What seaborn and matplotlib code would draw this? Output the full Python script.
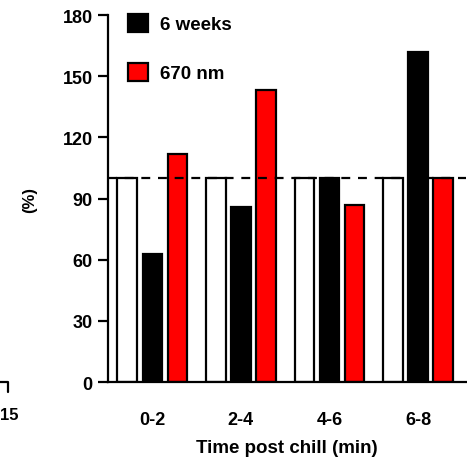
import matplotlib
matplotlib.use("Agg")
import matplotlib.pyplot as plt
from matplotlib.lines import Line2D
import seaborn as sns
import pandas as pd

categories = ["0-2", "2-4", "4-6", "6-8"]
control = [100, 100, 100, 100]
six_weeks = [63, 86, 100, 162]
nm670 = [112, 143, 87, 100]
series_names = ["Control", "6 weeks", "670 nm"]
yticks = [0, 30, 60, 90, 120, 150, 180]

rows = []
for name, vals in zip(series_names, [control, six_weeks, nm670]):
    for c, v in zip(categories, vals):
        rows.append({"time": c, "value": v, "group": name})
df = pd.DataFrame(rows)

sns.set_style("ticks")
plt.rcParams["font.family"] = ["Liberation Sans", "DejaVu Sans"]
plt.rcParams["font.weight"] = "bold"
plt.rcParams["text.color"] = "black"
plt.rcParams["axes.labelcolor"] = "black"
plt.rcParams["xtick.color"] = "black"
plt.rcParams["ytick.color"] = "black"

W, H = 467, 464
fig = plt.figure(figsize=(W / 100, H / 100), dpi=100)
ax = fig.add_axes([108 / W, 1 - 383 / H, (466 - 108) / W, (383 - 16) / H])

palette = {"Control": "white", "6 weeks": "black", "670 nm": "#ff0000"}
sns.barplot(data=df, x="time", y="value", hue="group", order=categories,
            hue_order=series_names, palette=palette, saturation=1,
            width=0.85, gap=0.22,
            edgecolor="black", linewidth=1.6, ax=ax, legend=False)

ax.axhline(100, color="black", lw=1.6, ls=(0, (4, 3.5)), zorder=10)

ax.set_ylim(0, 180)
ax.set_xlim(-0.5, 3.54)
ax.set_yticks(yticks)
ax.set_yticklabels([str(t) for t in yticks], fontsize=13, fontweight="bold", color="black")
ax.set_xticks(range(len(categories)))
ax.set_xticklabels(categories, fontsize=13, fontweight="bold", color="black")
ax.tick_params(axis="y", length=7, width=1.6, pad=4, colors="black")
ax.tick_params(axis="x", length=0, pad=21)
for s in ["top", "right"]:
    ax.spines[s].set_visible(False)
for s in ["left", "bottom"]:
    ax.spines[s].set_linewidth(1.6)
    ax.spines[s].set_color("black")

ax.set_xlabel("Time post chill (min)", fontsize=13.5, fontweight="bold", labelpad=8, color="black")
ax.set_ylabel("(%)", fontsize=12, fontweight="bold", color="black")
ax.yaxis.set_label_coords(-0.198, 0.5)

handles = [ax.containers[1].patches[0], ax.containers[2].patches[0]]
leg = ax.legend(handles, series_names[1:], loc="upper left",
                bbox_to_anchor=(0.008, 1.05), frameon=False,
                handlelength=1.1, handleheight=1.1, labelspacing=1.6,
                handletextpad=0.6, prop={"size": 13.5, "weight": "bold"})
for t in leg.get_texts():
    t.set_color("black")

# fragment of neighbouring panel at left edge
fig.text(0.0, 1 - 416 / H, "15", fontsize=12, fontweight="bold", va="center", ha="left", color="black")
fig.add_artist(Line2D([0, 8 / W, 8 / W], [1 - 383 / H, 1 - 383 / H, 1 - 393 / H],
                      transform=fig.transFigure, color="black", lw=1.6))

fig.savefig("out.png", dpi=100)
